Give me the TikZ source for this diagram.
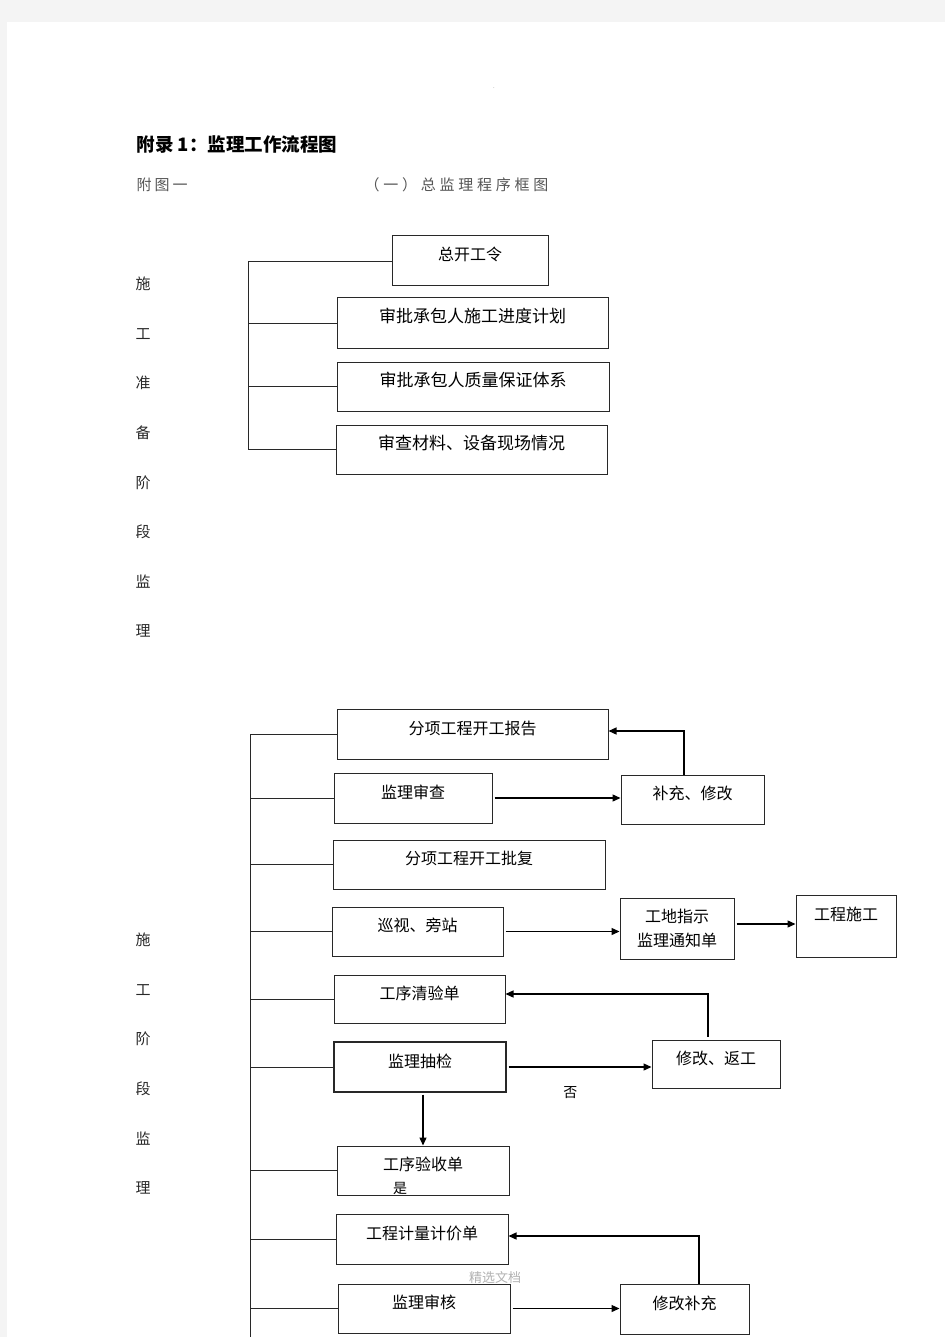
\documentclass[tikz,border=0pt]{standalone}
\usepackage{fontspec}
\setmainfont{Noto Sans CJK SC}
\usetikzlibrary{arrows.meta,calc}
\definecolor{pagegray}{RGB}{244,244,244}
\definecolor{inkgray}{RGB}{40,40,40}
\definecolor{softgray}{RGB}{85,85,85}

\begin{document}
\begin{tikzpicture}
    [x=1pt,y=-1pt,
     boxbase/.style={draw=inkgray,line width=1pt,inner sep=0pt,font=\fontsize{16}{20}\selectfont},
     box/.style={boxbase,text height=12pt,text depth=12pt},
     branch/.style={draw=inkgray,line width=0.8pt},
     flow/.style={-{Triangle[length=8pt,width=7pt]},line width=1.3pt,shorten <=2pt},
     side/.style={font=\fontsize{15}{18}\selectfont,text=inkgray}]
  \useasboundingbox (0,0) rectangle (945,1337);
  \fill[pagegray] (0,0) rectangle (945,1337);
  \fill[white] (7,22) rectangle (945,1337);
  \node[text=gray,font=\fontsize{6}{6}\selectfont] (dot) at (494,88) {.};

  % headings
  \node[anchor=west,font=\fontsize{18.5}{22}\selectfont\bfseries] (title) at (133,144) {附录 1：监理工作流程图};
  \node[anchor=west,text=softgray,font=\fontsize{15}{18}\selectfont\addfontfeature{LetterSpace=20}] (fig) at (133,185) {附图一};
  \node[anchor=west,text=softgray,font=\fontsize{15}{18}\selectfont\addfontfeature{LetterSpace=25}] (subtitle) at (361,185) {（一）总监理程序框图};

  % preparation stage
  \foreach \ch [count=\i] in {施,工,准,备,阶,段,监,理}
    \node[side] (prep\i) at (143,{284+49.6*(\i-1)}) {\ch};
  \node[box,minimum width=156,minimum height=50] (b1) at (470,261) {总开工令};
  \node[box,font=\fontsize{17}{20}\selectfont,minimum width=271,minimum height=50] (b2) at (472.5,323) {审批承包人施工进度计划};
  \node[box,font=\fontsize{17}{20}\selectfont,minimum width=272,minimum height=49] (b3) at (473,386.5) {审批承包人质量保证体系};
  \node[box,font=\fontsize{17}{20}\selectfont,minimum width=271,minimum height=49] (b4) at (471.5,449.5) {审查材料、设备现场情况};
  \coordinate (s1top) at (248,261);
  \coordinate (s1bot) at (248,449.5);
  \draw[branch] (b1.west) -- (s1top) -- (s1bot) -- (b4.west);
  \foreach \b in {b2,b3}
    \draw[branch] (\b.west) -- (\b.west -| s1top);

  % construction stage
  \foreach \ch [count=\i] in {施,工,阶,段,监,理}
    \node[side] (work\i) at (143,{940+49.6*(\i-1)}) {\ch};
  \node[box,minimum width=271,minimum height=50] (report) at (472.5,734) {分项工程开工报告};
  \node[box,minimum width=158,minimum height=50] (review) at (413,798) {监理审查};
  \node[box,minimum width=143,minimum height=49] (supp) at (692.5,799.5) {补充、修改};
  \node[box,minimum width=272,minimum height=49] (approve) at (469,864.5) {分项工程开工批复};
  \node[box,minimum width=171,minimum height=49] (patrol) at (417.5,931.5) {巡视、旁站};
  \node[boxbase,align=center,font=\fontsize{16}{24}\selectfont,minimum width=114,minimum height=61] (notice) at (677,928.5) {工地指示\\监理通知单};
  \node[box,text depth=24pt,minimum width=100,minimum height=62] (build) at (846,926) {工程施工};
  \node[box,minimum width=171,minimum height=48] (qingyan) at (419.5,999) {工序清验单};
  \node[box,line width=1.4pt,minimum width=172,minimum height=50] (check) at (420,1067) {监理抽检};
  \node[box,minimum width=128,minimum height=48] (rework) at (716,1064) {修改、返工\hspace{20pt}};
  \node[box,minimum width=172,minimum height=49] (accept) at (423,1170.5) {工序验收单};
  \node[box,minimum width=172,minimum height=50] (meter) at (422,1239) {工程计量计价单};
  \node[box,minimum width=172,minimum height=49] (audit) at (424,1308.5) {监理审核};
  \node[box,minimum width=129,minimum height=50] (fix) at (684.5,1309) {修改补充};
  \coordinate (s2top) at (250,734);
  \coordinate (s2bot) at (250,1337);
  \draw[branch] (s2top) -- (s2bot);
  \foreach \b in {report,review,approve,patrol,qingyan,check,accept,meter,audit}
    \draw[branch] (\b.west) -- (\b.west -| s2top);

  \draw[flow] (review.east) -- (review.east -| supp.west);
  \draw[flow,shorten <=0pt] ([xshift=-8.5pt]supp.north) |- ([yshift=3pt]report.east);
  \draw[flow] (patrol.east) -- (patrol.east -| notice.west);
  \draw[flow] ([yshift=2pt]notice.east |- build.west) -- ([yshift=2pt]build.west);
  \draw[flow,shorten <=3pt] ([xshift=-8pt]rework.north) |- ([yshift=5pt]qingyan.east);
  \draw[flow] (check.east) -- (check.east -| rework.west)
    node[pos=0.44,below=16pt,font=\fontsize{14}{16}\selectfont] (no) {否};
  \draw[flow] (accept.north |- check.south) -- (accept.north);
  \node[font=\fontsize{14}{16}\selectfont] (yes) at (400,1188) {是};
  \draw[flow,shorten <=0pt] ([xshift=14.5pt]fix.north) |- ([yshift=3pt]meter.east);
  \draw[flow] (audit.east) -- (audit.east -| fix.west);

  \node[text=gray!60,font=\fontsize{13}{15}\selectfont] (mark) at (495,1277) {精选文档};
\end{tikzpicture}
\end{document}
